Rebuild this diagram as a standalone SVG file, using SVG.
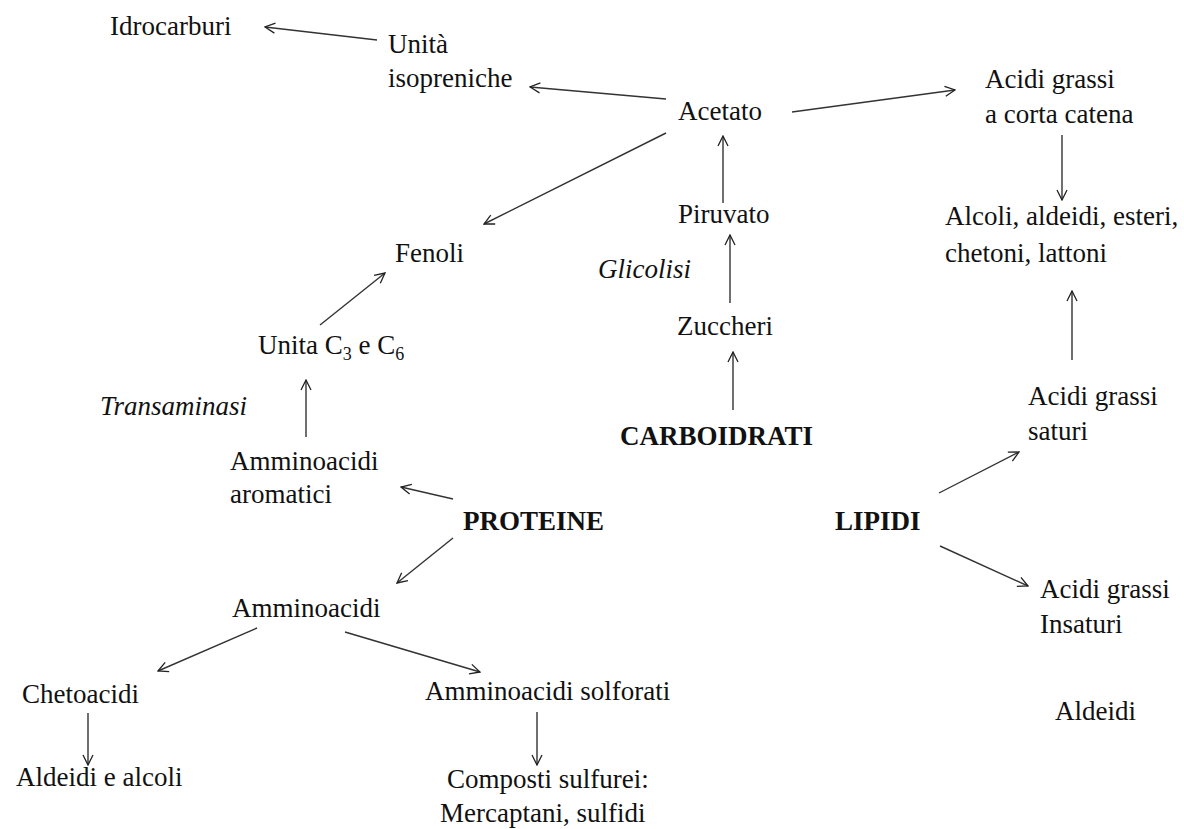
<svg xmlns="http://www.w3.org/2000/svg" width="1184" height="829" viewBox="0 0 1184 829">
<defs>
<marker id="ah" viewBox="0 0 12 12" refX="11" refY="6" markerWidth="12" markerHeight="12" markerUnits="userSpaceOnUse" orient="auto">
<path d="M1,1 L11,6 L1,11" fill="none" stroke="#222" stroke-width="1.3"/>
</marker>
<style>
text{font-family:"Liberation Serif","Times New Roman",serif;font-size:27px;fill:#111}
.b{font-weight:bold}
.i{font-style:italic}
.c line{stroke:#333;stroke-width:1.4;marker-end:url(#ah)}
</style>
</defs>
<rect width="1184" height="829" fill="#fff"/>
<g class="c" id="connectors">
<line x1="377" y1="40" x2="265" y2="27"/>
<line x1="666" y1="99" x2="530" y2="87"/>
<line x1="792" y1="112" x2="955" y2="90"/>
<line x1="666" y1="133" x2="484" y2="224"/>
<line x1="723" y1="203" x2="723" y2="136"/>
<line x1="730" y1="303" x2="730" y2="235"/>
<line x1="733" y1="410" x2="733" y2="352"/>
<line x1="1062" y1="135" x2="1062" y2="200"/>
<line x1="1072" y1="360" x2="1072" y2="291"/>
<line x1="320" y1="325" x2="385" y2="273"/>
<line x1="306" y1="437" x2="306" y2="380"/>
<line x1="453" y1="499" x2="401" y2="487"/>
<line x1="453" y1="538" x2="397" y2="583"/>
<line x1="939" y1="493" x2="1019" y2="452"/>
<line x1="940" y1="546" x2="1028" y2="586"/>
<line x1="257" y1="628" x2="158" y2="671"/>
<line x1="345" y1="632" x2="480" y2="672"/>
<line x1="88" y1="713" x2="88" y2="765"/>
<line x1="537" y1="712" x2="537" y2="765"/>
</g>
<g id="idrocarburi"><text x="110" y="35">Idrocarburi</text></g>
<g id="isopreniche"><text x="388" y="53">Unità</text><text x="388" y="87">isopreniche</text></g>
<g id="acetato"><text x="678" y="120">Acetato</text></g>
<g id="acidi-corta"><text x="985" y="88">Acidi grassi</text><text x="985" y="123">a corta catena</text></g>
<g id="piruvato"><text x="678" y="223">Piruvato</text></g>
<g id="glicolisi"><text class="i" x="598" y="278">Glicolisi</text></g>
<g id="zuccheri"><text x="677" y="335">Zuccheri</text></g>
<g id="carboidrati"><text class="b" x="620" y="445">CARBOIDRATI</text></g>
<g id="alcoli"><text x="945" y="225">Alcoli, aldeidi, esteri,</text><text x="945" y="262">chetoni, lattoni</text></g>
<g id="saturi"><text x="1028" y="405">Acidi grassi</text><text x="1028" y="440">saturi</text></g>
<g id="fenoli"><text x="395" y="262">Fenoli</text></g>
<g id="unita"><text x="258" y="354">Unita C<tspan font-size="18" dy="6">3</tspan><tspan dy="-6"> e C</tspan><tspan font-size="18" dy="6">6</tspan></text></g>
<g id="transaminasi"><text class="i" x="100" y="415">Transaminasi</text></g>
<g id="aromatici"><text x="230" y="470">Amminoacidi</text><text x="230" y="503">aromatici</text></g>
<g id="proteine"><text class="b" x="463" y="530">PROTEINE</text></g>
<g id="lipidi"><text class="b" x="835" y="530">LIPIDI</text></g>
<g id="insaturi"><text x="1040" y="598">Acidi grassi</text><text x="1040" y="633">Insaturi</text></g>
<g id="amminoacidi"><text x="232" y="617">Amminoacidi</text></g>
<g id="chetoacidi"><text x="22" y="703">Chetoacidi</text></g>
<g id="solforati"><text x="425" y="700">Amminoacidi  solforati</text></g>
<g id="aldeidi-alcoli"><text x="16" y="786">Aldeidi e alcoli</text></g>
<g id="composti"><text x="447" y="788">Composti sulfurei:</text><text x="440" y="822">Mercaptani, sulfidi</text></g>
<g id="aldeidi"><text x="1055" y="720">Aldeidi</text></g>
</svg>
